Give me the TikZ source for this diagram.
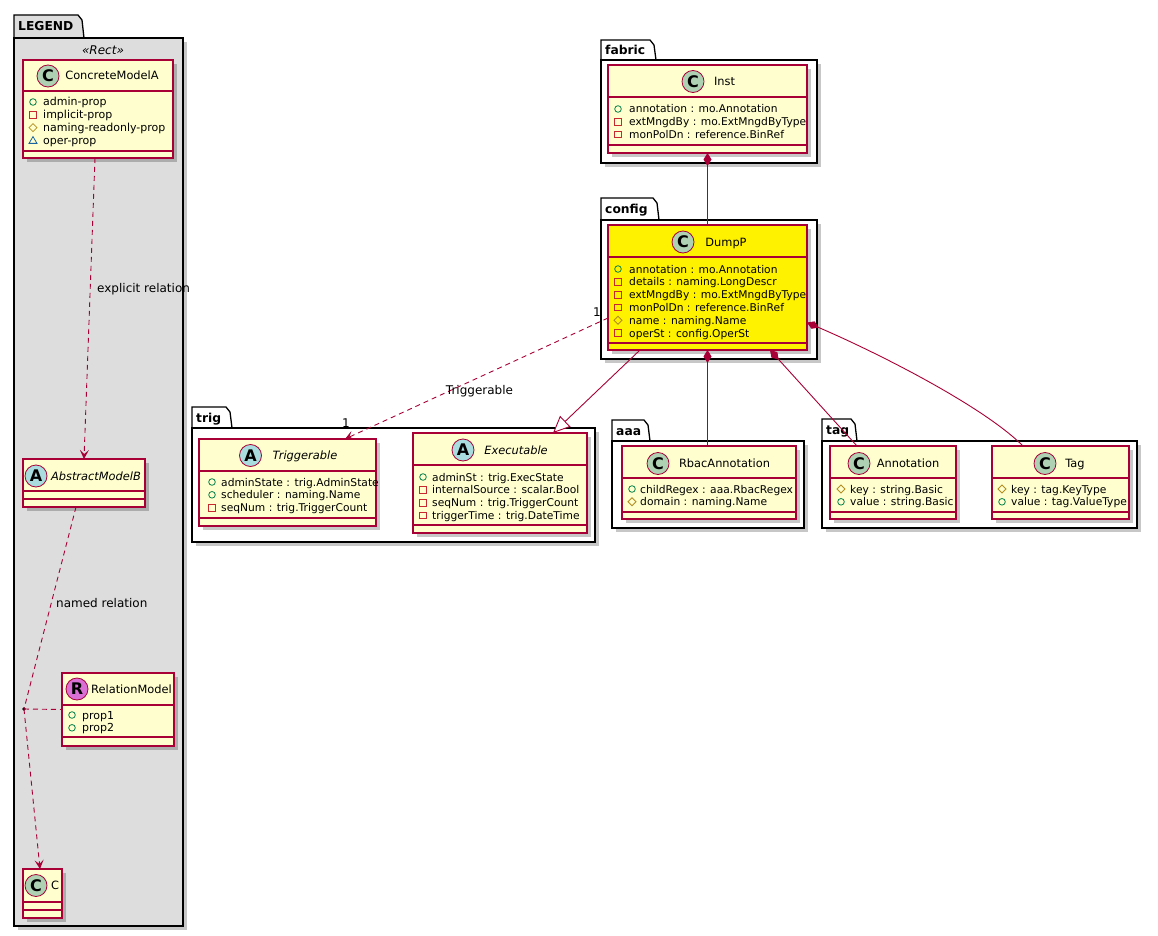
\documentclass[tikz,border=0pt]{standalone}
\usepackage{fontspec}
\setmainfont{DejaVu Sans}
\usepackage{tikz}
\usetikzlibrary{arrows.meta,calc}
\definecolor{umlred}{HTML}{A80036}
\definecolor{umlfill}{HTML}{FEFECE}
\definecolor{legendgrey}{HTML}{DDDDDD}
\definecolor{badgeC}{HTML}{ADD1B2}
\definecolor{badgeA}{HTML}{A9DCDF}
\definecolor{badgeR}{HTML}{DA70D6}
\definecolor{pubgreen}{HTML}{038048}
\definecolor{prired}{HTML}{C82930}
\definecolor{progold}{HTML}{B38D22}
\definecolor{pkgblue}{HTML}{1963A0}
\tikzset{
  cls/.style={draw=umlred,line width=1.2pt,inner sep=0pt,outer sep=0pt},
  sepline/.style={umlred,line width=1.2pt},
  drop/.style={fill=black,opacity=0.22},
  pkgbox/.style={draw=black,line width=1.3pt,inner sep=0pt,outer sep=0pt},
  tabtext/.style={font=\fontsize{12.3}{14}\selectfont\bfseries,inner sep=0pt,anchor=base west},
  badge/.style={circle,draw=umlred,line width=0.8pt,minimum size=22pt,inner sep=0pt,font=\fontsize{16}{16}\selectfont\bfseries},
  clsname/.style={font=\fontsize{11.4}{13}\selectfont,inner sep=0pt,anchor=base},
  absname/.style={clsname,font=\fontsize{11.4}{13}\selectfont\itshape},
  attr/.style={font=\fontsize{10.7}{13}\selectfont,inner sep=0pt,anchor=base west},
  mkline/.style={line width=0.8pt},
  lbl/.style={font=\fontsize{12}{14}\selectfont,inner sep=0pt},
  rel/.style={umlred,line width=0.9pt},
  relline/.style={rel,dash pattern=on 5pt off 4pt},
  dep/.style={relline,-{Stealth[length=9pt,width=9pt,inset=4pt]}},
  comp/.style={rel,{Diamond[length=13pt,width=8pt]}-},
  inherit/.style={rel,-{Triangle[open,length=17pt,width=15pt,fill=white]}}
}
\newcommand{\umlpackage}[9][white]{%
  \fill[drop] (#4+4,#7+4) rectangle (#8+4,#9+4);
  \filldraw[pkgbox,fill=#1] (#4,#7) -- (#4,#5) -- (#6,#5) -- (#6+4,#5+5) -- (#6+6,#7) -- cycle;
  \node[pkgbox,fill=#1,minimum width=#8-#4,minimum height=#9-#7] (#2) at ({(#4+#8)/2},{(#7+#9)/2}) {};
  \node[tabtext] (#2-tab) at (#4+4,{(#5+#7)/2+4.5}) {#3};}
\newcommand{\umlclass}[8][umlfill]{%
  \fill[drop] (#3+4,#4+4) rectangle (#5+4,#6+4);
  \node[cls,fill=#1,minimum width=#5-#3,minimum height=#6-#4] (#2) at ({(#3+#5)/2},{(#4+#6)/2}) {};
  \draw[sepline] (#3,#7) -- (#5,#7) (#3,#8) -- (#5,#8);}
\newcommand{\mkpub}[1]{\draw[pubgreen,mkline] (#1) circle[radius=3.3pt];}
\newcommand{\mkpri}[1]{\draw[prired,mkline,shift={(#1)}] (-3.3,-3.3) rectangle (3.3,3.3);}
\newcommand{\mkpro}[1]{\draw[progold,mkline,shift={(#1)}] (-4,0) -- (0,-4) -- (4,0) -- (0,4) -- cycle;}
\newcommand{\mkpkg}[1]{\draw[pkgblue,mkline,shift={(#1)}] (-4,3) -- (4,3) -- (0,-3.8) -- cycle;}
\newcommand{\attrs}[6][]{%
  \foreach \m/\t [count=\i from 0] in {#6} {
    \coordinate (#2-m\i) at (#3,#5+12.8*\i);
    \csname mk\m\endcsname{#2-m\i}
    \node[attr,#1] (#2-a\i) at (#4,#5+12.8*\i+4) {\t};
  }}

\begin{document}
\begin{tikzpicture}[x=1pt,y=-1pt]
  \useasboundingbox (0,0) rectangle (1158,936);
  % legend
  \umlpackage[legendgrey]{pkg-legend}{LEGEND}{14}{15}{78}{38}{183}{926}
  \node[lbl,font=\fontsize{12}{14}\selectfont\itshape] (legend-st) at (103,50) {«Rect»};
  \umlclass{cma}{23}{60}{173}{158}{91}{151}
  \node[badge,fill=badgeC] (cma-b) at (48,76) {C};
  \node[clsname] (cma-n) at (112,80) {ConcreteModelA};
  \attrs[font=\fontsize{11}{13}\selectfont]{cma}{33}{43}{102}{pub/admin-prop,pri/implicit-prop,pro/naming-readonly-prop,pkg/oper-prop}
  \umlclass{amb}{23}{459}{145}{507}{491}{499}
  \node[badge,fill=badgeA] (amb-b) at (36,476) {A};
  \node[absname] (amb-n) at (96,480) {AbstractModelB};
  \umlclass{relm}{62}{673}{174}{746}{705}{737}
  \node[badge,fill=badgeR] (relm-b) at (77,689) {R};
  \node[clsname] (relm-n) at (131.5,693) {RelationModel};
  \attrs[font=\fontsize{11}{13}\selectfont]{relm}{72}{82}{715}{pub/prop1,pub/prop2}
  \umlclass{cmodel}{23}{869}{62}{918}{902}{910}
  \node[badge,fill=badgeC] (cmodel-b) at (36,885.5) {C};
  \node[clsname] (cmodel-n) at (55,889.5) {C};
  \coordinate (relpt) at (24,709);
  \fill (relpt) circle[radius=1.8pt];
  \draw[dep] ($(cma.south)+(-3,0)$) -- (amb.north);
  \draw[relline] ($(amb.south)+(-8,0)$) -- (relpt);
  \draw[relline] (relpt) -- (relm.west);
  \draw[dep] (relpt) -- ($(cmodel.north)+(-2.5,0)$);
  \node[lbl,anchor=base west] (explicit-lbl) at (97,292) {explicit relation};
  \node[lbl,anchor=base west] (named-lbl) at (56,607) {named relation};
  \draw[pkgbox] (183,290) -- (183,297);
  % packages
  \umlpackage{pkg-fabric}{fabric}{601}{40}{650}{60}{817}{163}
  \umlpackage{pkg-config}{config}{601}{198}{653}{220}{817}{359}
  \umlpackage{pkg-trig}{trig}{192}{407}{226}{428}{595}{542}
  \umlpackage{pkg-aaa}{aaa}{612}{420}{644}{441}{804}{528}
  \umlpackage{pkg-tag}{tag}{822}{419}{851}{441}{1137}{528}
  % classes
  \umlclass{inst}{608}{65}{807}{153}{97}{145}
  \node[badge,fill=badgeC] (inst-b) at (693,81.5) {C};
  \node[clsname] (inst-n) at (724.5,85.5) {Inst};
  \attrs{inst}{618}{629}{109}{pub/annotation : mo.Annotation,pri/extMngdBy : mo.ExtMngdByType,pri/monPolDn : reference.BinRef}
  \umlclass[yellow]{dumpp}{608}{225}{807}{350}{257}{343}
  \node[badge,fill=badgeC] (dumpp-b) at (683,242) {C};
  \node[clsname] (dumpp-n) at (726,246) {DumpP};
  \attrs{dumpp}{618}{629}{269}{pub/annotation : mo.Annotation,pri/details : naming.LongDescr,pri/extMngdBy : mo.ExtMngdByType,pri/monPolDn : reference.BinRef,pro/name : naming.Name,pri/operSt : config.OperSt}
  \umlclass{trigg}{199}{439}{376}{526}{471}{518}
  \node[badge,fill=badgeA] (trigg-b) at (250.5,455.5) {A};
  \node[absname] (trigg-n) at (305,459.5) {Triggerable};
  \attrs{trigg}{212}{221}{482}{pub/adminState : trig.AdminState,pub/scheduler : naming.Name,pri/seqNum : trig.TriggerCount}
  \umlclass{exec}{413}{433}{587}{533}{465}{525}
  \node[badge,fill=badgeA] (exec-b) at (463,450) {A};
  \node[absname] (exec-n) at (516,454) {Executable};
  \attrs{exec}{423}{432}{477}{pub/adminSt : trig.ExecState,pri/internalSource : scalar.Bool,pri/seqNum : trig.TriggerCount,pri/triggerTime : trig.DateTime}
  \umlclass{rbac}{622}{446}{796}{519}{478}{512}
  \node[badge,fill=badgeC] (rbac-b) at (658,463.5) {C};
  \node[clsname] (rbac-n) at (724.5,467.5) {RbacAnnotation};
  \attrs{rbac}{632}{640}{489}{pub/childRegex : aaa.RbacRegex,pro/domain : naming.Name}
  \umlclass{annot}{830}{446}{956}{519}{478}{512}
  \node[badge,fill=badgeC] (annot-b) at (859,463.5) {C};
  \node[clsname] (annot-n) at (908,467.5) {Annotation};
  \attrs{annot}{841}{850}{489}{pro/key : string.Basic,pub/value : string.Basic}
  \umlclass{tagc}{992}{446}{1129}{519}{478}{512}
  \node[badge,fill=badgeC] (tagc-b) at (1045,463.5) {C};
  \node[clsname] (tagc-n) at (1075,467.5) {Tag};
  \attrs{tagc}{1002}{1011}{489}{pro/key : tag.KeyType,pub/value : tag.ValueType}
  % relations
  \draw[comp] (inst.south) -- (dumpp.north);
  \draw[dep] ($(dumpp.west)+(0,30.5)$) -- ($(trigg.north)+(57.5,0)$);
  \node[lbl] (one-a) at (597,312.5) {1};
  \node[lbl] (one-b) at (346,423) {1};
  \node[lbl,anchor=base] (trig-lbl) at (479.5,394) {Triggerable};
  \draw[inherit] ($(dumpp.south)+(-67.5,0)$) -- ($(exec.north)+(53,0)$);
  \draw[comp] (dumpp.south) -- (dumpp.south |- rbac.north);
  \draw[comp] ($(dumpp.south)+(62.5,0)$) -- ($(annot.north)+(-36,0)$);
  \draw[comp] ($(dumpp.east)+(0,35)$) .. controls ($(dumpp.east)+(70,65)$) and ($(tagc.north)+(-77.5,-40)$) .. ($(tagc.north)+(-37.5,0)$);
\end{tikzpicture}
\end{document}
